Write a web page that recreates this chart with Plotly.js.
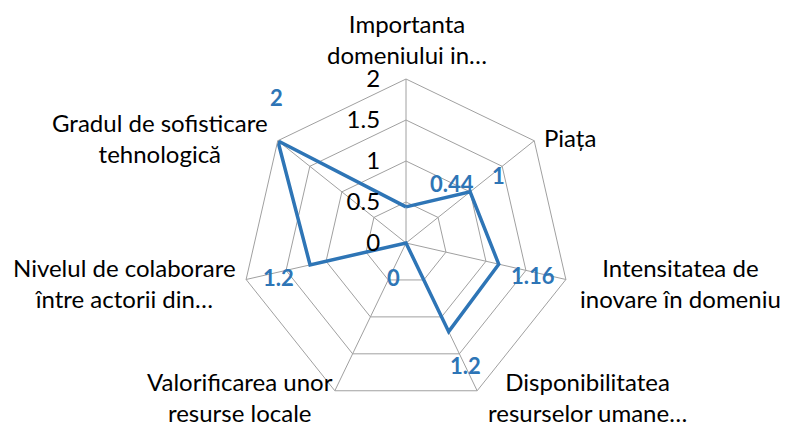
<!DOCTYPE html>
<html>
<head>
<meta charset="utf-8">
<script src="https://cdn.plot.ly/plotly-3.0.1.min.js"></script>
<style>
  html, body { margin: 0; padding: 0; background: #fff; }
  #chart { width: 787px; height: 427px; }
</style>
</head>
<body>
<div id="chart"></div>
<script>
// categories, clockwise from the top
const categories = [
    'Importanta domeniului in…',
    'Piața',
    'Intensitatea de inovare în domeniu',
    'Disponibilitatea resurselor umane…',
    'Valorificarea unor resurse locale',
    'Nivelul de colaborare între actorii din…',
    'Gradul de sofisticare tehnologică'
];
const categoryLines = [
    ['Importanta', 'domeniului in…'],
    ['Piața'],
    ['Intensitatea de', 'inovare în domeniu'],
    ['Disponibilitatea', 'resurselor umane…'],
    ['Valorificarea unor', 'resurse locale'],
    ['Nivelul de colaborare', 'între actorii din…'],
    ['Gradul de sofisticare', 'tehnologică']
];
const values = [0.44, 1, 1.16, 1.2, 0, 1.2, 2];
const radialTicks = [0, 0.5, 1, 1.5, 2];

const W = 787, H = 427;
const blue = '#2E75B6';
const grid = '#a0a0a0';
const font = 'Lato, "Open Sans", sans-serif';

// where Excel put the category and data labels (pixel centres)
const catPos = [[407, 39], [570, 137], [680, 283], [587, 397], [240, 397], [124, 283], [160, 138]];
const valPos = [[452, 183], [498, 175], [533, 275], [465, 365], [393, 277], [278, 277], [276, 97]];

const trace = {
    type: 'scatterpolar',
    mode: 'lines',
    r: values.concat([values[0]]),
    theta: categories.concat([categories[0]]),
    line: { color: blue, width: 3.5 },
    hoverinfo: 'skip',
    showlegend: false
};

const annotations = [];
categoryLines.forEach((lines, i) => {
    annotations.push({
        xref: 'paper', yref: 'paper',
        x: catPos[i][0] / W, y: 1 - catPos[i][1] / H,
        xanchor: 'center', yanchor: 'middle',
        text: lines.join('<br>'),
        showarrow: false,
        font: { family: font, size: 24, color: '#000' }
    });
});
values.forEach((v, i) => {
    annotations.push({
        xref: 'paper', yref: 'paper',
        x: valPos[i][0] / W, y: 1 - valPos[i][1] / H,
        xanchor: 'center', yanchor: 'middle',
        text: '<b>' + v + '</b>',
        showarrow: false,
        font: { family: font, size: 22, color: blue }
    });
});

const layout = {
    width: W,
    height: H,
    margin: { t: 0, b: 0, l: 0, r: 0 },
    paper_bgcolor: '#fff',
    showlegend: false,
    font: { family: font, size: 24, color: '#000' },
    polar: {
        domain: { x: [242 / W, 570 / W], y: [20 / H, 348 / H] },
        bgcolor: '#fff',
        gridshape: 'linear',
        angularaxis: {
            type: 'category',
            categoryarray: categories,
            rotation: 90,
            direction: 'clockwise',
            showticklabels: false,
            ticks: '',
            showline: true,
            linecolor: grid,
            linewidth: 1,
            gridcolor: grid,
            gridwidth: 1
        },
        radialaxis: {
            range: [0, 2],
            tickvals: radialTicks,
            ticktext: radialTicks.map(String),
            angle: 90,
            tickangle: 90,
            side: 'counterclockwise',
            showline: false,
            ticks: 'outside',
            ticklen: 17,
            tickcolor: 'rgba(0,0,0,0)',
            gridcolor: grid,
            gridwidth: 1,
            tickfont: { family: font, size: 24, color: '#000' }
        }
    },
    annotations: annotations
};

Plotly.newPlot('chart', [trace], layout, { staticPlot: true });
</script>
</body>
</html>
